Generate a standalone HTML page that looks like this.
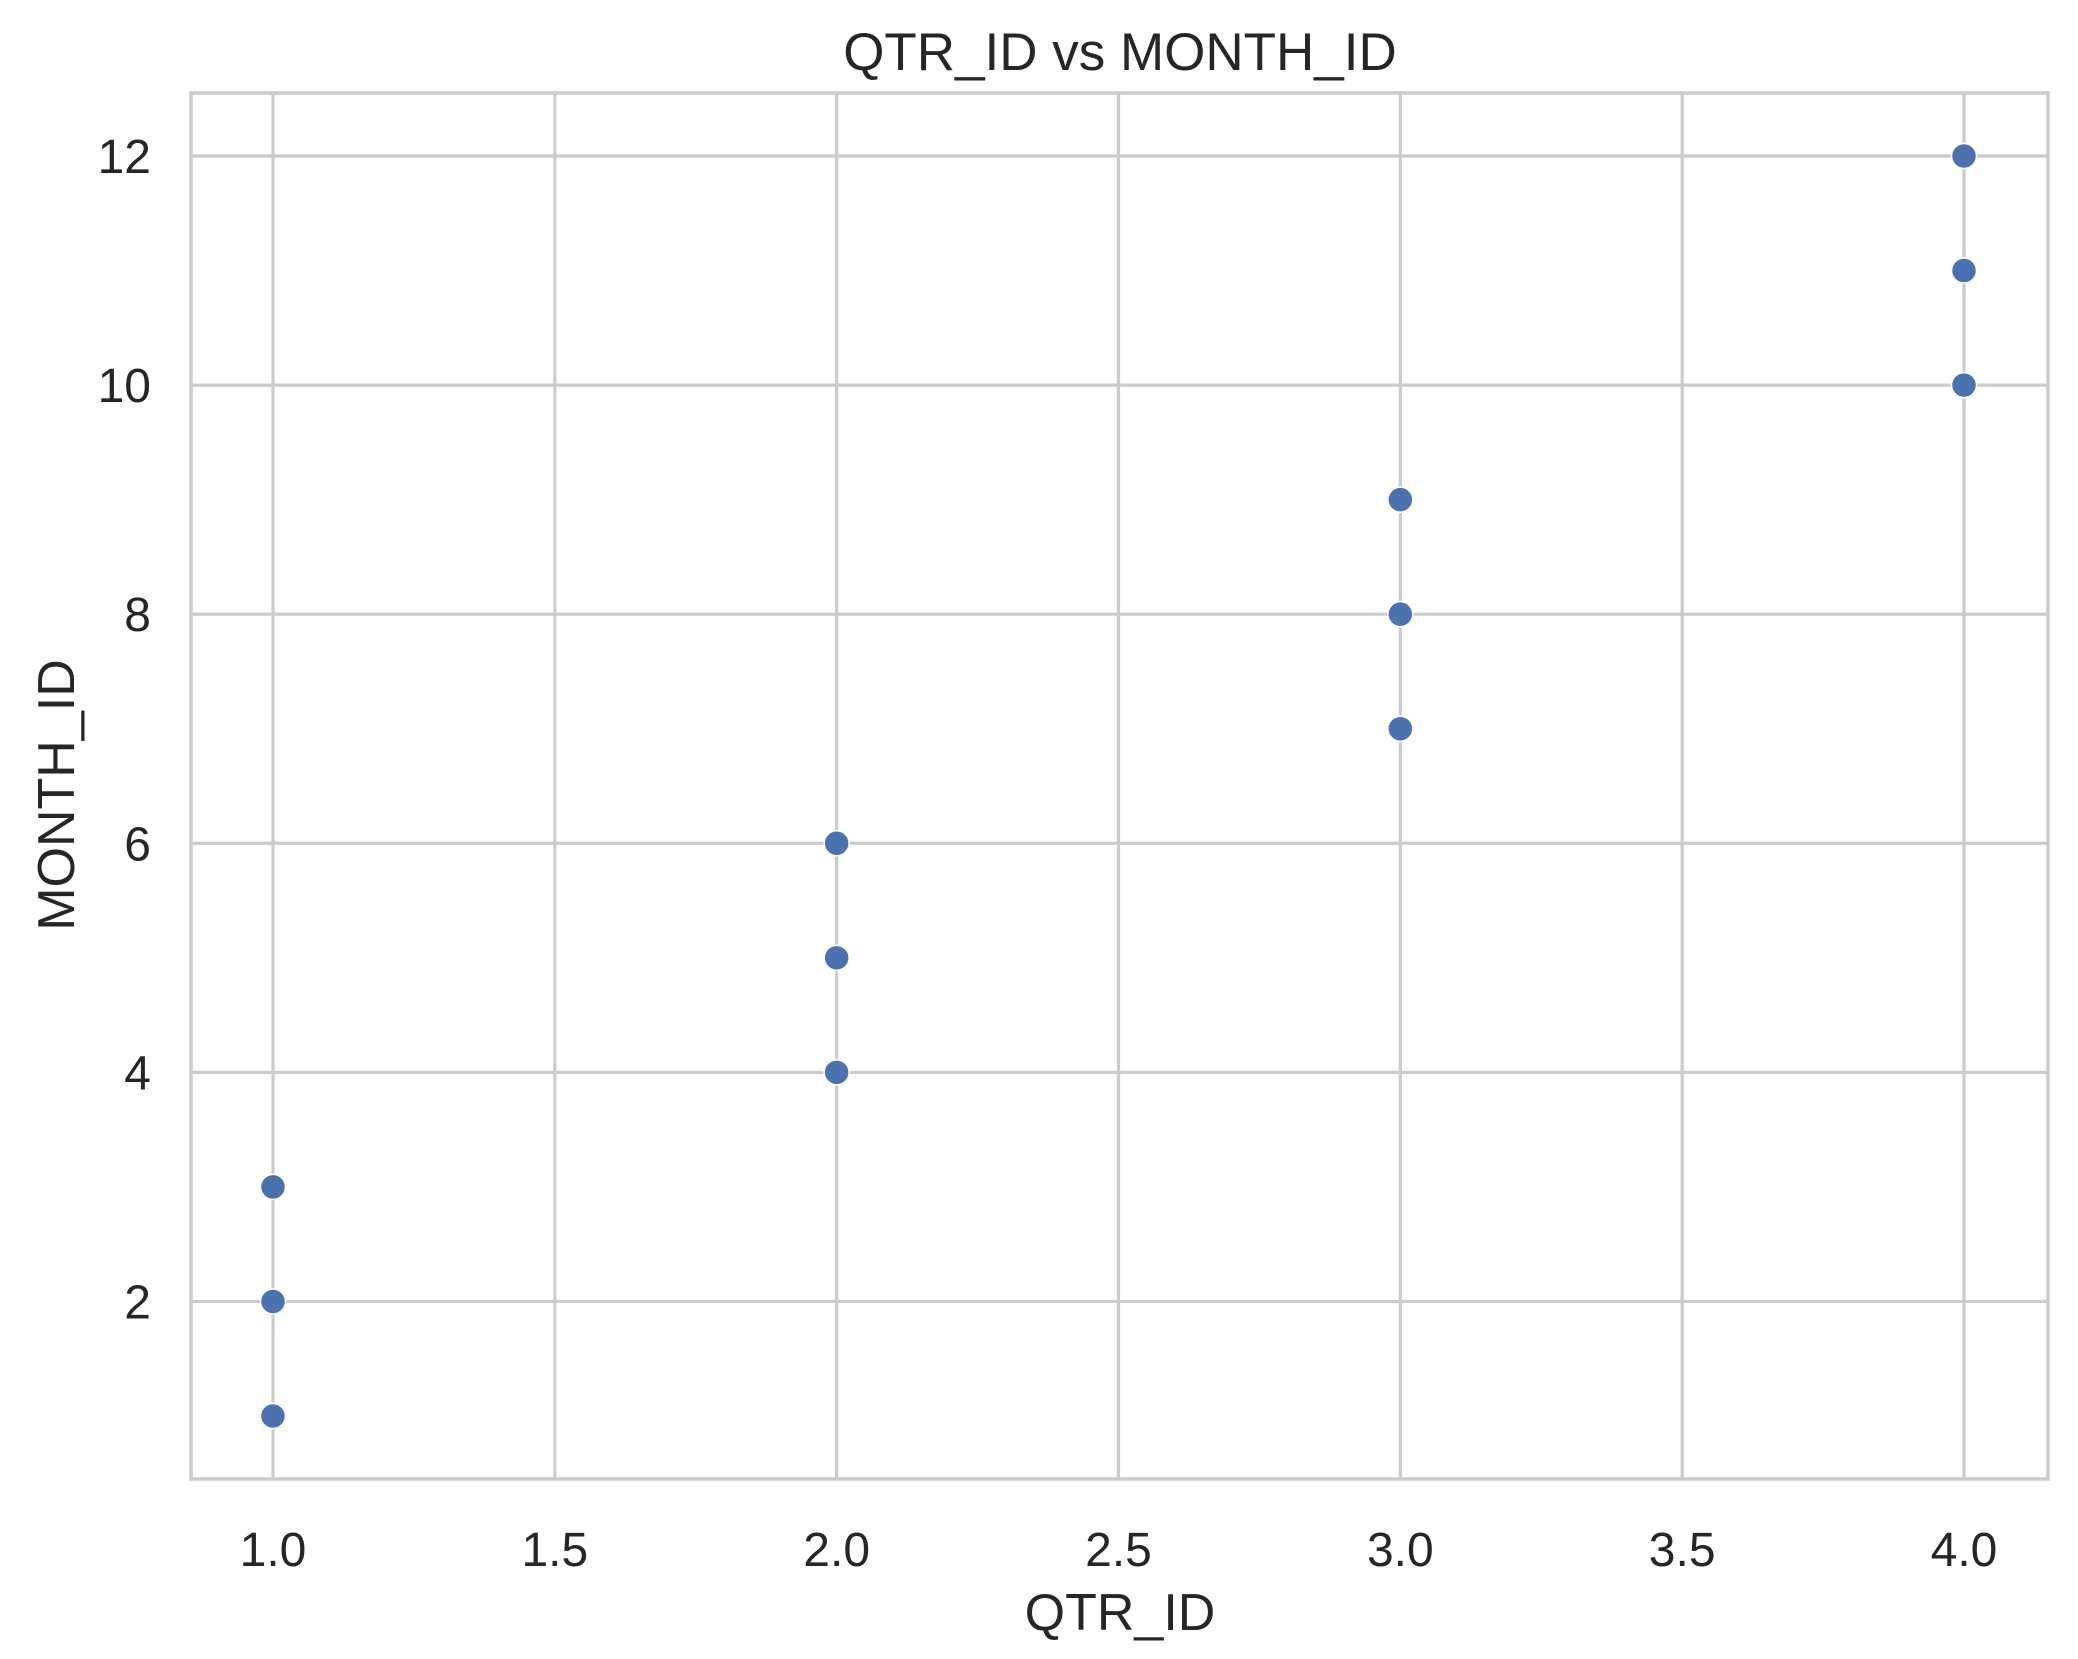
<!DOCTYPE html>
<html><head><meta charset="utf-8"><style>
html,body{margin:0;padding:0;background:#fff;}
svg{display:block;font-family:"Liberation Sans",Arial,sans-serif;}
</style></head><body>
<svg id="chart" width="2078" height="1659" viewBox="0 0 2078 1659">
<rect x="0" y="0" width="2078" height="1659" fill="#fff"/>
<g id="grid"></g>
<g id="xticks"></g>
<g id="yticks"></g>
<rect x="191" y="93" width="1857" height="1386" fill="none" stroke="#cccccc" stroke-width="3.5"/>
<g id="points"></g>
<text x="1120" y="70" text-anchor="middle" font-size="53" fill="#262626">QTR_ID vs MONTH_ID</text>
<text x="1120" y="1630" text-anchor="middle" font-size="52" fill="#262626">QTR_ID</text>
<text transform="translate(74,795) rotate(-90)" text-anchor="middle" font-size="52" fill="#262626">MONTH_ID</text>
</svg>
<script>
const xVals = [1,1,1,2,2,2,3,3,3,4,4,4];
const yVals = [1,2,3,4,5,6,7,8,9,10,11,12];
const xTicks = [1.0,1.5,2.0,2.5,3.0,3.5,4.0];
const xTickLabels = ["1.0","1.5","2.0","2.5","3.0","3.5","4.0"];
const yTicks = [2,4,6,8,10,12];
const yTickLabels = ["2","4","6","8","10","12"];

const NS = "http://www.w3.org/2000/svg";
function xs(v){ return 273 + (v - 1) * (1964 - 273) / 3; }
function ys(v){ return 1416 - (v - 1) * (1416 - 156) / 11; }
function mk(tag, attrs){ const e = document.createElementNS(NS, tag); for (const k in attrs) e.setAttribute(k, attrs[k]); return e; }

const grid = document.getElementById('grid');
const xt = document.getElementById('xticks');
const yt = document.getElementById('yticks');
xTicks.forEach((t, i) => {
  const l = mk('line', {x1: xs(t), x2: xs(t), y1: 93, y2: 1479, stroke: '#cccccc', 'stroke-width': 3.2});
  
  
  grid.appendChild(l);
  const tx = mk('text', {x: xs(t), y: 1566, 'text-anchor': 'middle', 'font-size': 48, fill: '#262626'});
  tx.textContent = xTickLabels[i];
  
  
  xt.appendChild(tx);
});
yTicks.forEach((t, i) => {
  const l = mk('line', {x1: 191, x2: 2048, y1: ys(t), y2: ys(t), stroke: '#cccccc', 'stroke-width': 3.2});
  
  
  grid.appendChild(l);
  const tx = mk('text', {x: 151, y: ys(t) + 17, 'text-anchor': 'end', 'font-size': 48, fill: '#262626'});
  tx.textContent = yTickLabels[i];
  
  
  yt.appendChild(tx);
});
const pts = document.getElementById('points');
xVals.forEach((x, i) => {
  const c = mk('circle', {cx: xs(x), cy: ys(yVals[i]), r: 12.5, fill: '#4c72b0', stroke: '#fff', 'stroke-width': 1.5});
  
  
  pts.appendChild(c);
});
</script>
</body></html>
